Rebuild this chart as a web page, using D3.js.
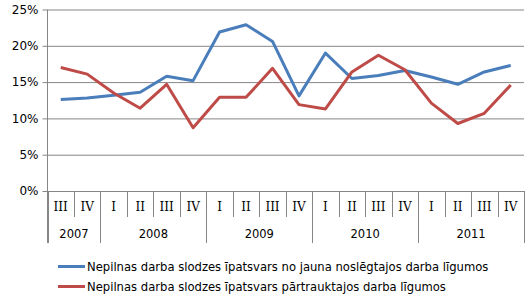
<!DOCTYPE html>
<html><head><meta charset="utf-8">
<script src="https://cdn.jsdelivr.net/npm/d3@7/dist/d3.min.js"></script>
<style>
body{margin:0;background:#fff;}
svg{display:block;}
text{font-family:"DejaVu Sans",Verdana,sans-serif;fill:#000;}
</style></head>
<body><svg id="c" width="529" height="306"></svg>
<script>
const quarters = ["III","IV","I","II","III","IV","I","II","III","IV","I","II","III","IV","I","II","III","IV"];
const years = [{label:"2007",n:2},{label:"2008",n:4},{label:"2009",n:4},{label:"2010",n:4},{label:"2011",n:4}];
const newContracts = [12.6,12.8,13.2,13.6,15.8,15.2,21.9,22.9,20.6,13.1,19.0,15.5,15.9,16.6,15.7,14.7,16.4,17.3];
const endedContracts = [17.0,16.1,13.5,11.4,14.7,8.7,12.9,12.9,16.9,11.9,11.3,16.4,18.7,16.7,12.1,9.3,10.7,14.6];
const yTicks = [0,5,10,15,20,25];
const seriesNames = ["Nepilnas darba slodzes īpatsvars no jauna noslēgtajos darba līgumos","Nepilnas darba slodzes īpatsvars pārtrauktajos darba līgumos"];
const colors = ["#4A7EBB","#BE4B48"];

const svg = d3.select("#c");
const L=47.5, R=524, T=9.5, B=191;
const x = d3.scaleBand().domain(d3.range(quarters.length)).range([L,R]).padding(0);
const y = d3.scaleLinear().domain([0,25]).range([B,T]);
const grid="#868686";

const yAxis = d3.axisLeft(y).tickValues(yTicks).tickSize(-(R-L)).tickSizeOuter(0).tickPadding(9).tickFormat(d=>d+"%");
const gy = svg.append("g").attr("transform",`translate(${L},0)`).call(yAxis);
gy.select(".domain").remove();
gy.selectAll(".tick line").attr("stroke",grid).attr("x1",-5).attr("stroke-width",1);
gy.selectAll(".tick text").style("font-size","12px").style("font-family","'DejaVu Sans',Verdana,sans-serif").attr("fill","#000");
svg.append("line").attr("x1",L).attr("x2",L).attr("y1",T).attr("y2",243).attr("stroke",grid);

let acc=0; const yearStarts=new Set([0]);
years.forEach(yr=>{acc+=yr.n; yearStarts.add(acc);});
for(let i=0;i<=quarters.length;i++){
  const xx = i<quarters.length ? x(i) : R;
  const isYear = yearStarts.has(i);
  svg.append("line").attr("x1",Math.round(xx)+0.5).attr("x2",Math.round(xx)+0.5).attr("y1",B).attr("y2",isYear?243:217).attr("stroke",grid);
}
svg.append("g").selectAll("text").data(quarters).join("text")
  .attr("x",(d,i)=>x(i)+x.bandwidth()/2).attr("y",211)
  .attr("text-anchor","middle").style("font-size","12px").style("font-family","'DejaVu Serif',serif").text(d=>d);
acc=0;
years.forEach(yr=>{
  const x0=x(acc), x1=(acc+yr.n<quarters.length)?x(acc+yr.n):R;
  svg.append("text").attr("x",(x0+x1)/2).attr("y",238).attr("text-anchor","middle").style("font-size","11.5px").text(yr.label);
  acc+=yr.n;
});

const line = d3.line().x((d,i)=>x(i)+x.bandwidth()/2).y(d=>y(d));
[newContracts,endedContracts].forEach((s,k)=>{
  svg.append("path").datum(s).attr("d",line).attr("fill","none").attr("stroke",colors[k]).attr("stroke-width",3).attr("stroke-linejoin","round");
});

seriesNames.forEach((n,k)=>{
  const ly=266.5+k*20;
  svg.append("line").attr("x1",58).attr("x2",85).attr("y1",ly).attr("y2",ly).attr("stroke",colors[k]).attr("stroke-width",3);
  svg.append("text").attr("x",87).attr("y",ly+4.5).style("font-size","11.6px").text(n);
});
</script></body></html>
